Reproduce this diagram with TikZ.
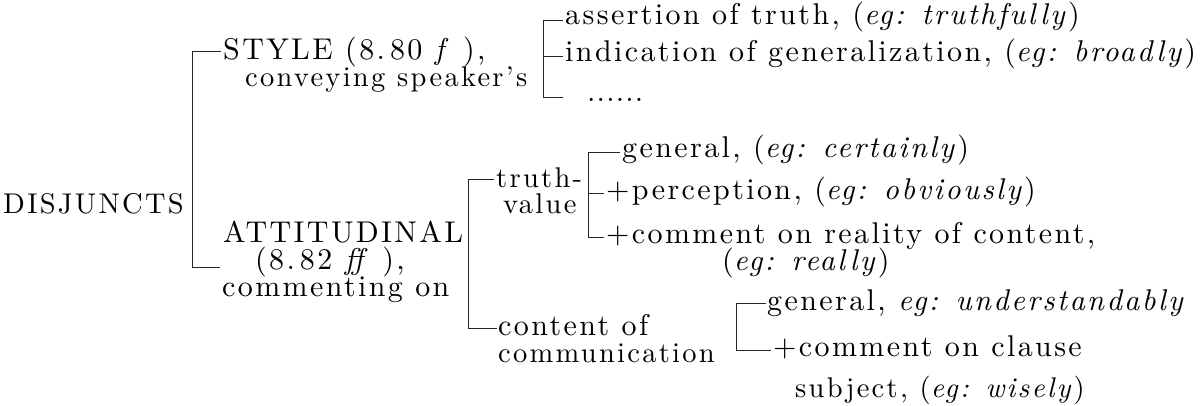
\documentclass[tikz,border=0pt]{standalone}
\usepackage{fontspec}
\setmainfont{lmroman10}[Extension=.otf, UprightFont=*-regular,
  ItalicFont=*-italic, BoldFont=*-bold, BoldItalicFont=*-bolditalic,
  Ligatures=TeX, LetterSpace=8]
\begin{document}
\begin{tikzpicture}[x=1pt,y=-1pt,
  lbl/.style={anchor=base west, inner sep=0pt,
    font=\fontsize{30}{30}\selectfont},
  snug/.style={font=\fontsize{28.5}{28.5}\selectfont},
  rule/.style={line width=0.8pt, draw=black!85}]
\useasboundingbox (0,0) rectangle (1200,406);

% root
\node[lbl,snug] (dis) at (3,214) {DISJUNCTS};

% first level
\node[lbl] (sty)  at (223,60)  {STYLE (8.\,80 \textit{f} ),};
\node[lbl,snug] (sty2) at (245,87)  {conveying speaker’s};
\node[lbl] (att)  at (223,243) {ATTITUDINAL};
\node[lbl] (att2) at (255,270) {(8.\,82 \textit{f{}f} ),};
\node[lbl] (att3) at (222,297) {commenting on};

% style branch
\node[lbl] (asr)  at (565,25)  {assertion of truth, (\textit{eg: truthfully})};
\node[lbl] (ind)  at (565,62)  {indication of generalization, (\textit{eg: broadly})};
\node[lbl] (dots) at (587,102) {\makebox[56pt][s]{.\hfil.\hfil.\hfil.\hfil.\hfil.}};

% attitudinal branch
\node[lbl,snug] (tru)  at (496,188) {truth-};
\node[lbl,snug] (val)  at (503,214) {value};
\node[lbl] (con)  at (498,335) {content of};
\node[lbl,snug] (com)  at (498,362) {communication};

% truth-value branch
\node[lbl] (gen1) at (622,158) {general, (\textit{eg: certainly})};
\node[lbl] (per)  at (606,200) {+perception, (\textit{eg: obviously})};
\node[lbl] (rea)  at (606,244) {+comment on reality of content,};
\node[lbl] (rea2) at (722,271) {(\textit{eg: really})};

% content-of-communication branch
\node[lbl] (gen2) at (767,310) {general, \textit{eg: understandably}};
\node[lbl] (cla)  at (773,356) {+comment on clause};
\node[lbl,snug] (cla2) at (795,397) {subject, (\textit{eg: wisely})};

% bracket after DISJUNCTS
\coordinate (b1t) at (192,51);
\coordinate (b1b) at (192,267);
\draw[rule] ([xshift=-2pt]sty.base west |- b1t) -- (b1t) -- (b1b)
  -- ([xshift=-3pt]att.base west |- b1b);

% bracket after STYLE
\coordinate (b2t) at (543,20);
\coordinate (b2m) at (543,56);
\coordinate (b2b) at (543,97);
\draw[rule] ([xshift=-2pt]asr.base west |- b2t) -- (b2t) -- (b2b)
  -- ([xshift=-24pt]dots.base west |- b2b);
\draw[rule] (b2m) -- ([xshift=-2pt]ind.base west |- b2m);

% bracket after ATTITUDINAL
\coordinate (b3t) at (468,179);
\coordinate (b3b) at (468,328);
\draw[rule] ([xshift=-2pt]tru.base west |- b3t) -- (b3t) -- (b3b)
  -- ([xshift=-1pt]con.base west |- b3b);

% bracket after truth-value
\coordinate (b4t) at (588,152);
\coordinate (b4m) at (588,193);
\coordinate (b4b) at (588,237);
\draw[rule] ([xshift=-2pt]gen1.base west |- b4t) -- (b4t) -- (b4b)
  -- ([xshift=-2pt]rea.base west |- b4b);
\draw[rule] (b4m) -- ([xshift=-2pt]per.base west |- b4m);

% bracket after content of communication
\coordinate (b5t) at (736,303);
\coordinate (b5b) at (736,350);
\draw[rule] ([xshift=-1pt]gen2.base west |- b5t) -- (b5t) -- (b5b)
  -- ([xshift=-2pt]cla.base west |- b5b);
\end{tikzpicture}
\end{document}
